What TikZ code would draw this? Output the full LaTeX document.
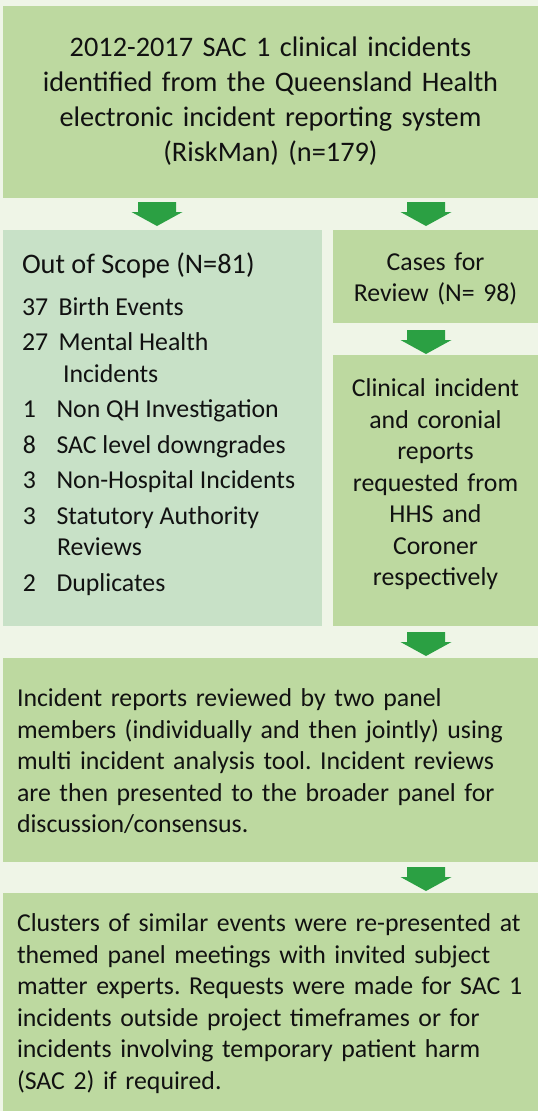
\documentclass[tikz,border=0pt]{standalone}
\usepackage{fontspec}
\setmainfont{Carlito}
\frenchspacing
\definecolor{pagebg}{HTML}{EFF5E7}
\definecolor{boxgreen}{HTML}{BDD9A0}
\definecolor{scopegreen}{HTML}{C8E1C7}
\definecolor{arrowgreen}{HTML}{2BA043}
\definecolor{ink}{HTML}{111111}
\begin{document}
\begin{tikzpicture}[x=1pt,y=-1pt,
  panel/.style={draw=none, fill=boxgreen, inner sep=0pt, outer sep=0pt, anchor=north west},
  scopepanel/.style={panel, fill=scopegreen},
  bodytext/.style={font=\fontsize{25.8}{31.5}\selectfont, text=ink, inner sep=0pt, outer sep=0pt},
  headtext/.style={font=\fontsize{28.3}{35}\selectfont, text=ink, inner sep=0pt, outer sep=0pt},
  item/.style={bodytext, anchor=base west},
  flowarrow/.style={fill=arrowgreen, draw=none}
]
% page
\fill[pagebg] (0,0) rectangle (538,1111);
\useasboundingbox (0,0) rectangle (538,1111);

% boxes
\node[panel, minimum width=535pt, minimum height=192pt] (source) at (3,6) {};
\node[scopepanel, minimum width=319pt, minimum height=396pt] (scope) at (3,230) {};
\node[panel, minimum width=205pt, minimum height=93pt] (review) at (333,230) {};
\node[panel, minimum width=205pt, minimum height=271pt] (request) at (333,355) {};
\node[panel, minimum width=535pt, minimum height=204pt] (panelrev) at (3,658) {};
\node[panel, minimum width=535pt, minimum height=218pt] (themed) at (3,893) {};

% block arrows in the gaps
\newcommand\blockdown[1]{%
  \fill[flowarrow, shift={(#1)}] (-19,0) -- (19,0) -- (19,10) -- (25.5,10)
    -- (0,24) -- (-25.5,10) -- (-19,10) -- cycle;}
\coordinate (arrA) at (157,202);
\coordinate (arrB) at (426,202);
\coordinate (arrC) at (426,330);
\coordinate (arrD) at (426,632);
\coordinate (arrE) at (426,867);
\blockdown{arrA}
\blockdown{arrB}
\blockdown{arrC}
\blockdown{arrD}
\blockdown{arrE}

% texts
\node[headtext, text width=530pt, align=center, anchor=base] (sourcetxt) at (270.5,56)
  {2012-2017 SAC 1 clinical incidents\\ identified from the Queensland Health\\
   electronic incident reporting system\\ (RiskMan) (n=179)};

\node[headtext, anchor=base west] (scopetitle) at (22,273) {Out of Scope (N=81)};
\node[item] (n1) at (22,315) {37};   \node[item] (t1) at (58.5,315) {Birth Events};
\node[item] (n2) at (22,350.5) {27}; \node[item] (t2) at (58.5,350.5) {Mental Health};
\node[item] (t2b) at (63,382) {Incidents};
\node[item] (n3) at (23,417.5) {1};  \node[item] (t3) at (56.5,417.5) {Non QH Investigation};
\node[item] (n4) at (23,453) {8};    \node[item] (t4) at (56.5,453) {SAC level downgrades};
\node[item] (n5) at (23,488.5) {3};  \node[item] (t5) at (56.5,488.5) {Non-Hospital Incidents};
\node[item] (n6) at (23,524) {3};    \node[item] (t6) at (56.5,524) {Statutory Authority};
\node[item] (t6b) at (57,555.5) {Reviews};
\node[item] (n7) at (23,591) {2};    \node[item] (t7) at (56.5,591) {Duplicates};

\node[bodytext, text width=200pt, align=center, anchor=base] (reviewtxt) at (435.5,270)
  {Cases for\\ Review (N= 98)};
\node[bodytext, text width=200pt, align=center, anchor=base] (requesttxt) at (435.5,396.7)
  {Clinical incident\\ and coronial\\ reports\\ requested from\\ HHS and\\ Coroner\\ respectively};

\node[bodytext, text width=515pt, align=left, anchor=base west] (panelrevtxt) at (17,706.7)
  {Incident reports reviewed by two panel\\ members (individually and then jointly) using\\
   multi incident analysis tool. Incident reviews\\ are then presented to the broader panel for\\
   discussion/consensus.};
\node[bodytext, text width=515pt, align=left, anchor=base west] (themedtxt) at (17,931.7)
  {Clusters of similar events were re-presented at\\ themed panel meetings with invited subject\\
   matter experts. Requests were made for SAC 1\\ incidents outside project timeframes or for\\
   incidents involving temporary patient harm\\ (SAC 2) if required.};
\end{tikzpicture}
\end{document}
